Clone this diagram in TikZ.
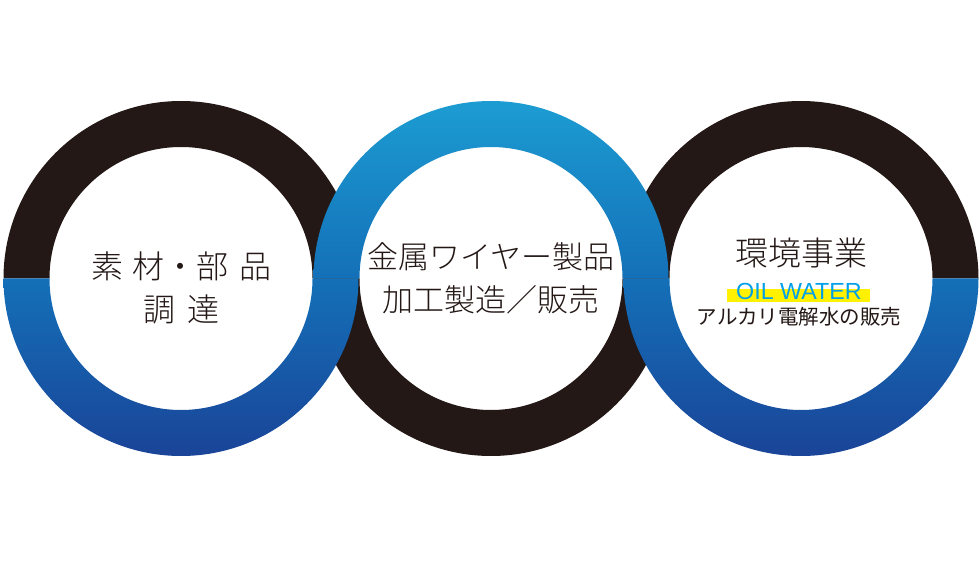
\documentclass[tikz,border=0pt]{standalone}
\usepackage{fontspec}
\setmainfont{Liberation Sans}
\newfontfamily\jp{Noto Sans CJK JP}
\newfontfamily\jpl{Noto Sans CJK JP Light}
\newfontfamily\lat{Liberation Sans}
\definecolor{ringblack}{HTML}{231815}
\definecolor{bluetop}{HTML}{1C9CD2}
\definecolor{bluemid}{HTML}{1470B8}
\definecolor{bluebot}{HTML}{1A4498}
\definecolor{oilblue}{HTML}{00A0E9}
\definecolor{hiyellow}{HTML}{FFF100}
\tikzset{
  txt/.style={anchor=base, inner sep=0pt, text=ringblack, font=\jpl},
}
\newcommand{\tophalf}[4]{% x y R r
  (#1+#3,#2) arc[start angle=0,end angle=180,radius=#3] -- (#1-#4,#2) arc[start angle=180,end angle=0,radius=#4] -- cycle}
\newcommand{\bothalf}[4]{%
  (#1+#3,#2) arc[start angle=0,end angle=-180,radius=#3] -- (#1-#4,#2) arc[start angle=-180,end angle=0,radius=#4] -- cycle}
\begin{document}
\begin{tikzpicture}[x=1pt,y=1pt]
\useasboundingbox (0,0) rectangle (980,571);
\fill[white] (0,0) rectangle (980,571);
% black halves
\fill[ringblack] \tophalf{181}{292.5}{177.5}{131.5};
\fill[ringblack] \bothalf{491}{292.5}{177.5}{131.5};
\fill[ringblack] \tophalf{801}{292.5}{177.5}{131.5};
% blue halves
\shade[top color=bluemid, bottom color=bluebot] \bothalf{181}{292.5}{177.5}{131.5};
\shade[top color=bluetop, bottom color=bluemid] \tophalf{491}{292.5}{177.5}{131.5};
\shade[top color=bluemid, bottom color=bluebot] \bothalf{801}{292.5}{177.5}{131.5};
% left text
\node[txt, font=\jpl\fontsize{32}{32}\selectfont] (l1) at (181,571-278.4) {素\kern10pt 材・部\kern10pt 品};
\node[txt, font=\jpl\fontsize{32}{32}\selectfont] (l2) at (181,571-321.7) {調\kern12pt 達};
% middle text
\node[txt, font=\jpl\fontsize{31}{31}\selectfont] (m1) at (491,571-268.8) {金属ワイヤー製品};
\node[txt, font=\jpl\fontsize{31}{31}\selectfont] (m2) at (491,571-312) {加工製造／販売};
% right text
\node[txt, font=\jpl\fontsize{33}{33}\selectfont] (r1) at (801.5,571-266) {環境事業};
\fill[hiyellow] (727,571-289) rectangle (870,571-302);
\node[anchor=base, inner sep=0pt, text=oilblue, font=\lat\fontsize{23.3}{23.3}\selectfont] (r2) at (799,571-300) {OIL WATER};
\node[txt, font=\jp\fontsize{20.5}{20.5}\selectfont] (r3) at (799,571-324.5) {アルカリ電解水の販売};
\end{tikzpicture}
\end{document}
